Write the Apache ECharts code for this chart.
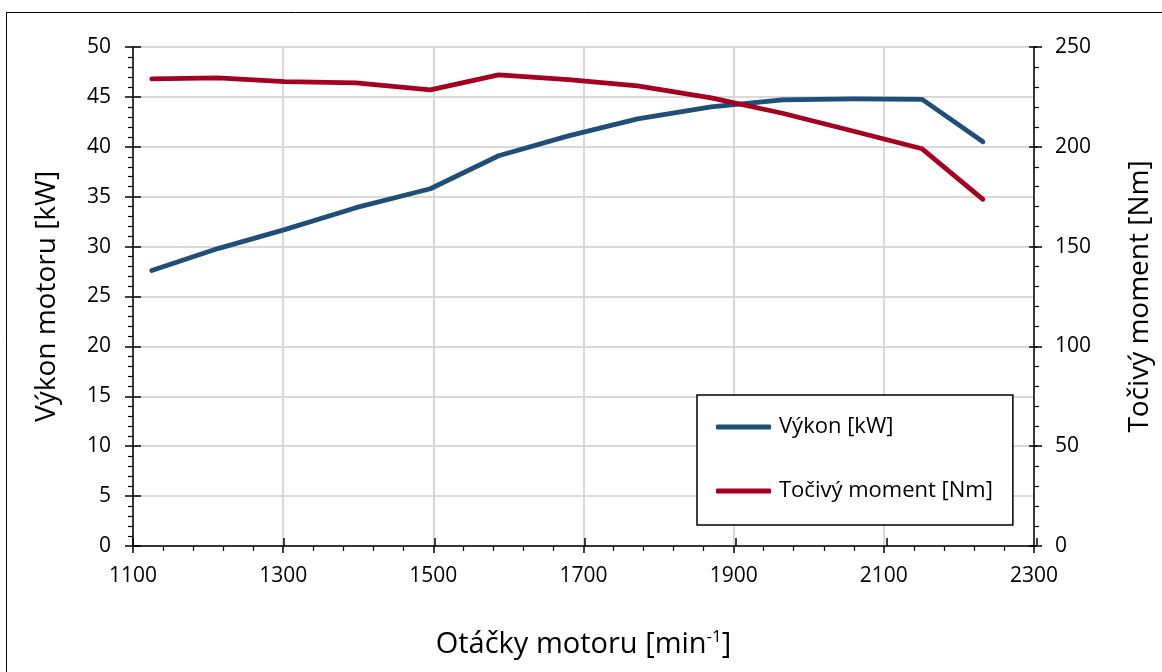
<!DOCTYPE html>
<html>
<head>
<meta charset="utf-8">
<script src="https://cdn.jsdelivr.net/npm/echarts@6/dist/echarts.min.js"></script>
<style>
  html, body { margin: 0; padding: 0; background: #fff; }
  #chart { width: 1162px; height: 672px; }
</style>
</head>
<body>
<div id="chart"></div>
<script>
// otáčky motoru [min-1]
const rpm = [1125, 1213, 1302, 1397, 1496, 1587, 1680, 1772, 1870, 1965, 2060, 2151, 2232];
// výkon [kW]
const power = [27.6, 29.8, 31.7, 33.9, 35.8, 39.1, 41.1, 42.8, 44.0, 44.7, 44.8, 44.75, 40.5];
// točivý moment [Nm]
const torque = [234, 234.5, 232.7, 232, 228.5, 236, 233.7, 230.5, 224.5, 216.8, 207.8, 199, 173.7];

const seriesNames = ["Výkon [kW]", "Točivý moment [Nm]"];
const font = "'Open Sans', 'Noto Sans', sans-serif";

const chart = echarts.init(document.getElementById("chart"));

const gridBox = { left: 133, right: 125, top: 47, bottom: 126 };
const plain = (v) => String(v);

const option = {
  backgroundColor: "#fff",
  animation: false,
  textStyle: { fontFamily: font, color: "#000" },
  graphic: [
    {
      type: "rect",
      left: 4,
      top: 10,
      shape: { width: 1300, height: 800 },
      style: { fill: "none", stroke: "#000", lineWidth: 1 },
      silent: true,
    },
  ],
  grid: [
    Object.assign({}, gridBox),
    Object.assign({}, gridBox), // vnitřní tiky
  ],
  legend: {
    orient: "vertical",
    left: 697,
    top: 395,
    data: seriesNames,
    icon: "roundRect",
    backgroundColor: "#fff",
    borderColor: "#000",
    borderWidth: 1.5,
    borderRadius: 0,
    padding: [21, 20, 23, 19],
    itemGap: 42,
    itemWidth: 55,
    itemHeight: 5,
    textStyle: { fontSize: 22, color: "#000", fontFamily: font, padding: [0, 0, 0, 3] },
  },
  xAxis: [
    {
      type: "value",
      gridIndex: 0,
      min: 1100,
      max: 2300,
      interval: 200,
      name: "Otáčky motoru [min{sup|-1}]",
      nameLocation: "middle",
      nameGap: 83,
      nameTextStyle: {
        fontSize: 29,
        color: "#000",
        fontFamily: font,
        rich: { sup: { fontSize: 17, color: "#000", fontFamily: font, padding: [0, 0, 14, 0] } },
      },
      axisLine: { lineStyle: { color: "#000", width: 1.5 } },
      axisTick: { length: 7, lineStyle: { color: "#000", width: 1.5 } },
      minorTick: { show: true, splitNumber: 5, length: 5, lineStyle: { color: "#000", width: 1.2 } },
      axisLabel: { fontSize: 21, color: "#000", margin: 20, fontFamily: font, formatter: plain },
      splitLine: { show: true, lineStyle: { color: "#d9d9d9", width: 2 } },
    },
    {
      type: "value",
      gridIndex: 1,
      min: 1100,
      max: 2300,
      interval: 200,
      axisLine: { show: false },
      axisTick: { inside: true, length: 8, lineStyle: { color: "#000", width: 1.5 } },
      axisLabel: { show: false },
      splitLine: { show: false },
    },
  ],
  yAxis: [
    {
      type: "value",
      gridIndex: 0,
      position: "left",
      min: 0,
      max: 50,
      interval: 5,
      name: "Výkon motoru [kW]",
      nameLocation: "middle",
      nameRotate: 90,
      nameGap: 72,
      nameTextStyle: { fontSize: 28, color: "#000", fontFamily: font },
      axisLine: { show: true, lineStyle: { color: "#000", width: 1.5 } },
      axisTick: { show: true, length: 8, lineStyle: { color: "#000", width: 1.5 } },
      minorTick: { show: true, splitNumber: 5, length: 5, lineStyle: { color: "#000", width: 1.2 } },
      axisLabel: { fontSize: 21, color: "#000", margin: 22, fontFamily: font },
      splitLine: { show: true, lineStyle: { color: "#d9d9d9", width: 2 } },
    },
    {
      type: "value",
      gridIndex: 0,
      position: "right",
      min: 0,
      max: 250,
      interval: 50,
      name: "Točivý moment [Nm]",
      nameLocation: "middle",
      nameRotate: 90,
      nameGap: 92,
      nameTextStyle: { fontSize: 28, color: "#000", fontFamily: font },
      axisLine: { show: true, lineStyle: { color: "#000", width: 1.5 } },
      axisTick: { show: true, length: 8, lineStyle: { color: "#000", width: 1.5 } },
      minorTick: { show: true, splitNumber: 5, length: 5, lineStyle: { color: "#000", width: 1.2 } },
      axisLabel: { fontSize: 21, color: "#000", margin: 21, fontFamily: font },
      splitLine: { show: false },
    },
    {
      type: "value",
      gridIndex: 1,
      position: "left",
      min: 0,
      max: 50,
      interval: 5,
      axisLine: { show: false },
      axisTick: { show: true, inside: true, length: 8, lineStyle: { color: "#000", width: 1.5 } },
      axisLabel: { show: false },
      splitLine: { show: false },
    },
    {
      type: "value",
      gridIndex: 1,
      position: "right",
      min: 0,
      max: 250,
      interval: 50,
      axisLine: { show: false },
      axisTick: { show: true, inside: true, length: 8, lineStyle: { color: "#000", width: 1.5 } },
      axisLabel: { show: false },
      splitLine: { show: false },
    },
  ],
  series: [
    {
      name: seriesNames[0],
      type: "line",
      xAxisIndex: 0,
      yAxisIndex: 0,
      symbol: "none",
      lineStyle: { color: "#1f4e79", width: 4.8, cap: "round", join: "round" },
      itemStyle: { color: "#1f4e79" },
      data: rpm.map((r, i) => [r, power[i]]),
    },
    {
      name: seriesNames[1],
      type: "line",
      xAxisIndex: 0,
      yAxisIndex: 1,
      symbol: "none",
      lineStyle: { color: "#a50021", width: 4.8, cap: "round", join: "round" },
      itemStyle: { color: "#a50021" },
      data: rpm.map((r, i) => [r, torque[i]]),
    },
  ],
};

chart.setOption(option);
</script>
</body>
</html>
